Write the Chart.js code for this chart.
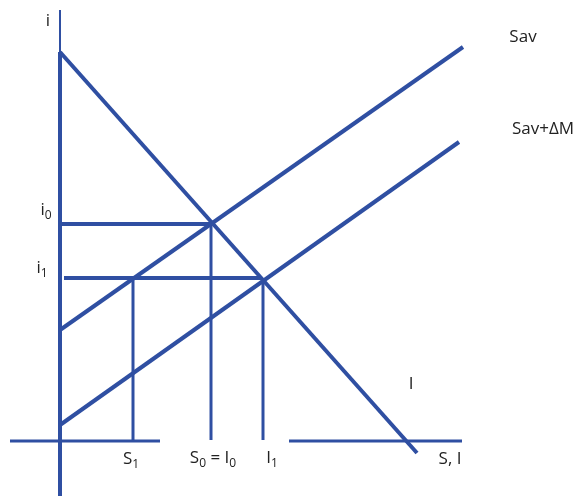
<!DOCTYPE html>
<html>
<head>
<meta charset="utf-8">
<script src="https://cdn.jsdelivr.net/npm/chart.js@4"></script>
<style>
  html, body { margin: 0; padding: 0; background: #fff; }
  #wrap { width: 582px; height: 498px; position: relative; }
</style>
</head>
<body>
<div id="wrap"><canvas id="diagram"></canvas></div>
<script>
// diagram units: origin where the two axes cross
var axisV = [[0, -5.5], [0, 38.9]];
var axisVTop = [[0, 38.9], [0, 43.1]];
var axisHLeft = [[-5, 0], [10, 0]];
var axisHRight = [[22.9, 0], [40.2, 0]];
var invest = [[0, 38.9], [35.7, -1.2]];
var sav = [[0, 11.1], [40.3, 39.4]];
var savM = [[0, 1.6], [39.9, 29.9]];
var rateI0 = [[0, 21.7], [15.2, 21.7]];
var rateI1 = [[0.4, 16.3], [20.2, 16.3]];
var dropS1 = [[7.3, 0.1], [7.3, 16.3]];
var dropS0 = [[15.1, 0.1], [15.1, 21.7]];
var dropI1 = [[20.3, 0.1], [20.3, 16.3]];

var labelText = ['i', 'i_0', 'i_1', 'S_1', 'S_0 = I_0', 'I_1', 'I', 'S, I', 'Sav', 'Sav+ΔM'];
var labelX = [-1.2, -1.4, -1.8, 7.1, 15.3, 21.2, 35.1, 39.0, 46.3, 48.3];
var labelY = [42.1, 23.2, 17.4, -1.7, -1.6, -1.6, 5.8, -1.7, 40.5, 31.3];

var blue = '#2f4fa2';

function seg(pts, w) {
  return {
    data: pts.map(function (p) { return { x: p[0], y: p[1] }; }),
    showLine: true,
    borderColor: blue,
    borderWidth: w,
    pointRadius: 0,
    fill: false
  };
}

var labelPlugin = {
  id: 'diagramLabels',
  afterDatasetsDraw: function (chart) {
    var ctx = chart.ctx;
    var xs = chart.scales.x, ys = chart.scales.y;
    ctx.save();
    ctx.fillStyle = '#222';
    ctx.textBaseline = 'alphabetic';
    for (var i = 0; i < labelText.length; i++) {
      // split into normal / subscript pieces
      var parts = [];
      var s = labelText[i];
      for (var k = 0; k < s.length; k++) {
        if (s[k] === '_') { parts.push([s[k + 1], true]); k++; }
        else if (parts.length && !parts[parts.length - 1][1]) parts[parts.length - 1][0] += s[k];
        else parts.push([s[k], false]);
      }
      var total = 0;
      parts.forEach(function (p) {
        ctx.font = p[1] ? '12px "Open Sans"' : '17px "Open Sans"';
        p.push(ctx.measureText(p[0]).width);
        total += p[2];
      });
      var px = xs.getPixelForValue(labelX[i]) - total / 2;
      var py = ys.getPixelForValue(labelY[i]) + 6;
      parts.forEach(function (p) {
        ctx.font = p[1] ? '12px "Open Sans"' : '17px "Open Sans"';
        ctx.fillText(p[0], px, p[1] ? py + 4 : py);
        px += p[2];
      });
    }
    ctx.restore();
  }
};

new Chart(document.getElementById('diagram'), {
  type: 'scatter',
  data: {
    datasets: [
      seg(axisV, 4), seg(axisVTop, 2), seg(axisHLeft, 3), seg(axisHRight, 3),
      seg(invest, 4), seg(sav, 4), seg(savM, 4),
      seg(rateI0, 4), seg(rateI1, 4),
      seg(dropS1, 3), seg(dropS0, 3), seg(dropI1, 3)
    ]
  },
  options: {
    responsive: true,
    maintainAspectRatio: false,
    animation: false,
    layout: { padding: 0 },
    plugins: { legend: { display: false }, tooltip: { enabled: false } },
    scales: {
      x: { type: 'linear', min: -6, max: 52.2, display: false },
      y: { type: 'linear', min: -5.7, max: 44.1, display: false }
    }
  },
  plugins: [labelPlugin]
});
</script>
</body>
</html>
